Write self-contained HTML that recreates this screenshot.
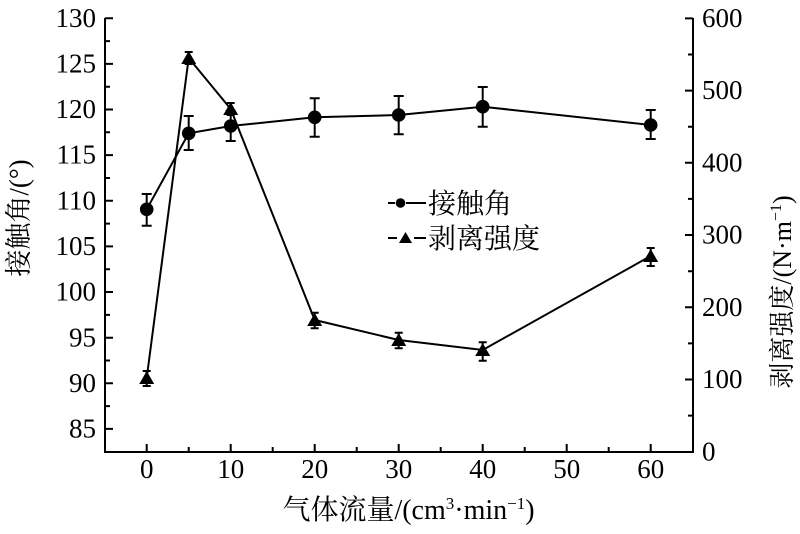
<!DOCTYPE html>
<html>
<head>
<meta charset="utf-8">
<style>
html,body{margin:0;padding:0;background:#fff;}
svg{display:block;}
.t{font-family:"Liberation Serif","Noto Serif CJK SC",serif;fill:#000;}
</style>
</head>
<body>
<svg width="800" height="534" viewBox="0 0 800 534" xmlns="http://www.w3.org/2000/svg">
<rect width="800" height="534" fill="#fff"/>
<!-- axes -->
<g stroke="#000" stroke-width="2" fill="none">
  <polyline points="105,18 105,452 693,452 693,18"/>
  <path d="M105,18.3h8 M105,63.9h8 M105,109.5h8 M105,155.1h8 M105,200.8h8 M105,246.4h8 M105,292h8 M105,337.7h8 M105,383.3h8 M105,428.9h8"/>
  <path d="M105,41.1h5 M105,86.7h5 M105,132.3h5 M105,178h5 M105,223.6h5 M105,269.2h5 M105,314.9h5 M105,360.5h5 M105,406.1h5"/>
  <path d="M693,18.4h-8 M693,90.6h-8 M693,162.8h-8 M693,235h-8 M693,307.3h-8 M693,379.5h-8"/>
  <path d="M693,54.5h-5 M693,126.7h-5 M693,198.9h-5 M693,271.2h-5 M693,343.4h-5 M693,415.6h-5"/>
  <path d="M146.7,452v-8 M230.7,452v-8 M314.7,452v-8 M398.7,452v-8 M482.7,452v-8 M566.7,452v-8 M650.7,452v-8"/>
  <path d="M188.7,452v-5 M272.7,452v-5 M356.7,452v-5 M440.7,452v-5 M524.7,452v-5 M608.7,452v-5"/>
</g>
<!-- left tick labels -->
<g class="t" font-size="27" text-anchor="end">
  <text x="96" y="27">130</text>
  <text x="96" y="72.5">125</text>
  <text x="96" y="118">120</text>
  <text x="96" y="163.5">115</text>
  <text x="96" y="209.5">110</text>
  <text x="96" y="255">105</text>
  <text x="96" y="300.5">100</text>
  <text x="96" y="346.5">95</text>
  <text x="96" y="392">90</text>
  <text x="96" y="437.5">85</text>
</g>
<!-- right tick labels -->
<g class="t" font-size="27" text-anchor="start">
  <text x="702" y="27">600</text>
  <text x="702" y="99">500</text>
  <text x="702" y="171.5">400</text>
  <text x="702" y="243.5">300</text>
  <text x="702" y="316">200</text>
  <text x="702" y="388">100</text>
  <text x="702" y="460.5">0</text>
</g>
<!-- bottom tick labels -->
<g class="t" font-size="27" text-anchor="middle">
  <text x="146.7" y="478">0</text>
  <text x="230.7" y="478">10</text>
  <text x="314.7" y="478">20</text>
  <text x="398.7" y="478">30</text>
  <text x="482.7" y="478">40</text>
  <text x="566.7" y="478">50</text>
  <text x="650.7" y="478">60</text>
</g>
<!-- axis titles -->
<text class="t" font-size="27" text-anchor="middle" transform="translate(28,218) rotate(-90)">接触角/(°)</text>
<text class="t" font-size="26" text-anchor="middle" transform="translate(791,292) rotate(-90)">剥离强度/(N·m<tspan font-size="16" dy="-10">−1</tspan><tspan dy="10">)</tspan></text>
<text class="t" font-size="28" text-anchor="middle" x="408.5" y="519">气体流量/(cm<tspan font-size="17" dy="-10">3</tspan><tspan dy="10">·min</tspan><tspan font-size="17" dy="-10">−1</tspan><tspan dy="10">)</tspan></text>

<!-- series lines -->
<g stroke="#000" stroke-width="2" fill="none">
  <polyline points="146.7,209.3 188.7,133.3 230.7,126 314.7,117.3 398.7,115 482.7,106.7 650.7,125"/>
  <polyline points="146.7,378 188.7,58 230.7,109 314.7,320 398.7,340 482.7,350 650.7,256"/>
</g>
<!-- error bars -->
<g stroke="#000" stroke-width="2" fill="none">
  <path d="M146.7,194V225.7 M141.7,194h10 M141.7,225.7h10"/>
  <path d="M188.7,116V150 M183.7,116h10 M183.7,150h10"/>
  <path d="M230.7,111V141 M225.7,111h10 M225.7,141h10"/>
  <path d="M314.7,98.3V136.7 M309.7,98.3h10 M309.7,136.7h10"/>
  <path d="M398.7,96V134.3 M393.7,96h10 M393.7,134.3h10"/>
  <path d="M482.7,87V126.7 M477.7,87h10 M477.7,126.7h10"/>
  <path d="M650.7,110V139 M645.7,110h10 M645.7,139h10"/>
  <path d="M146.7,371V386 M142.7,371h8 M142.7,386h8"/>
  <path d="M188.7,52V64 M184.7,52h8 M184.7,64h8"/>
  <path d="M230.7,103V115 M226.7,103h8 M226.7,115h8"/>
  <path d="M314.7,312.7V328.3 M310.7,312.7h8 M310.7,328.3h8"/>
  <path d="M398.7,332.7V348.3 M394.7,332.7h8 M394.7,348.3h8"/>
  <path d="M482.7,342.3V360.7 M478.7,342.3h8 M478.7,360.7h8"/>
  <path d="M650.7,248V266 M646.7,248h8 M646.7,266h8"/>
</g>
<!-- circle markers -->
<g fill="#000">
  <circle cx="146.7" cy="209.3" r="6.8"/>
  <circle cx="188.7" cy="133.3" r="6.8"/>
  <circle cx="230.7" cy="126" r="6.8"/>
  <circle cx="314.7" cy="117.3" r="6.8"/>
  <circle cx="398.7" cy="115" r="6.8"/>
  <circle cx="482.7" cy="106.7" r="6.8"/>
  <circle cx="650.7" cy="125" r="6.8"/>
</g>
<!-- triangle markers -->
<g fill="#000">
  <path d="M146.7,371 l7.5,13 h-15 z"/>
  <path d="M188.7,51 l7.5,13 h-15 z"/>
  <path d="M230.7,102 l7.5,13 h-15 z"/>
  <path d="M314.7,313 l7.5,13 h-15 z"/>
  <path d="M398.7,333 l7.5,13 h-15 z"/>
  <path d="M482.7,343 l7.5,13 h-15 z"/>
  <path d="M650.7,249 l7.5,13 h-15 z"/>
</g>

<!-- legend -->
<g stroke="#000" stroke-width="2">
  <line x1="388" y1="203" x2="395" y2="203"/>
  <line x1="406" y1="203" x2="426" y2="203"/>
  <line x1="388" y1="238" x2="397" y2="238"/>
  <line x1="414" y1="238" x2="426" y2="238"/>
</g>
<circle cx="400.5" cy="203" r="4.8" fill="#000"/>
<path d="M405.5,232 l6.5,11 h-13 z" fill="#000"/>
<g class="t" font-size="28">
  <text x="428" y="213">接触角</text>
  <text x="428" y="248">剥离强度</text>
</g>
</svg>
</body>
</html>
